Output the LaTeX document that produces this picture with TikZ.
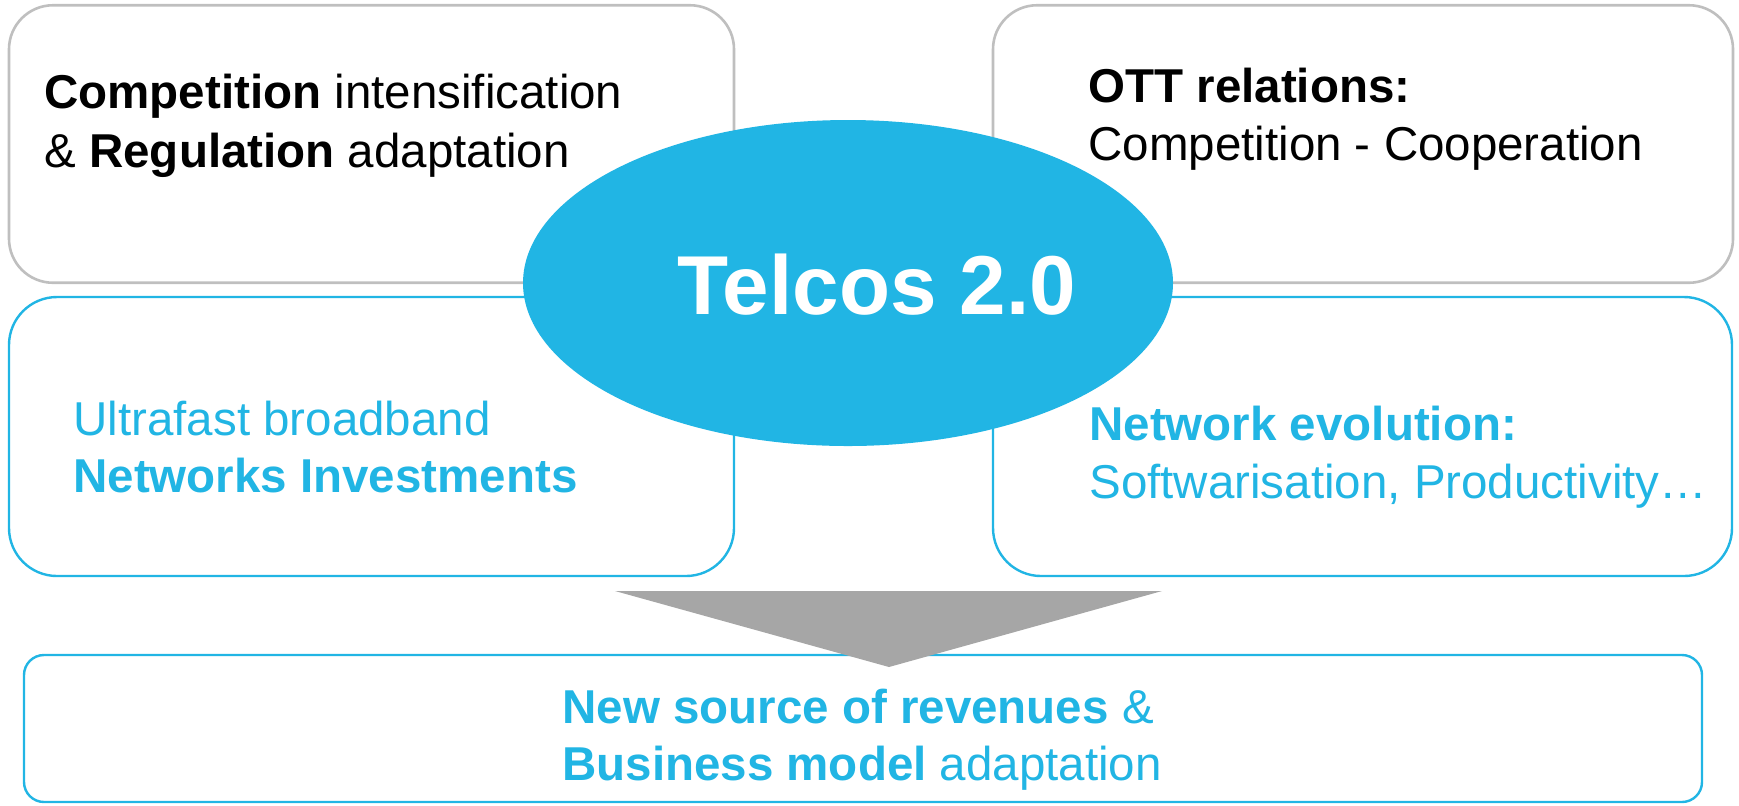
\documentclass[tikz,border=0pt]{standalone}
\usepackage{fontspec}
\setmainfont{Liberation Sans}
\usetikzlibrary{shapes.geometric}
\definecolor{tblue}{RGB}{33,181,228}
\definecolor{tgray}{RGB}{191,191,191}
\definecolor{tarrow}{RGB}{166,166,166}
\begin{document}
\begin{tikzpicture}[x=0.5pt,y=-0.5pt,
  graybox/.style={draw=tgray, line width=1.3pt, rounded corners=22pt, rectangle, inner sep=0pt, fill=white},
  bluebox/.style={draw=tblue, line width=1.2pt, rounded corners=24pt, rectangle, inner sep=0pt, fill=white},
  bottombox/.style={draw=tblue, line width=1.2pt, rounded corners=10pt, rectangle, inner sep=0pt, fill=white},
  txt/.style={anchor=base west, inner sep=0pt, font=\fontsize{23.75pt}{28pt}\selectfont},
  btxt/.style={txt, text=tblue},
  hub/.style={ellipse, fill=tblue, draw=none, inner sep=0pt},
  hubtxt/.style={anchor=base, inner sep=0pt, text=white, font=\fontsize{41.8pt}{48pt}\selectfont\bfseries}
]
\useasboundingbox (0,0) rectangle (1739,805);

% boxes
\node[graybox, minimum width=362.5pt, minimum height=138.75pt] (tl) at (371.5,144) {};
\node[graybox, minimum width=370pt, minimum height=138.75pt] (tr) at (1363,144) {};
\node[bluebox, minimum width=362.5pt, minimum height=139.5pt] (ml) at (371.5,436.5) {};
\node[bluebox, minimum width=369.5pt, minimum height=139.5pt] (mr) at (1362.5,436.5) {};
\node[bottombox, minimum width=839pt, minimum height=73.5pt] (bot) at (863,728.5) {};

% arrow
\coordinate (al) at (615,591);
\coordinate (ar) at (1162,591);
\coordinate (ap) at (889,667);
\fill[tarrow] (al) -- (ar) -- (ap) -- cycle;

% central ellipse
\node[hub, minimum width=325pt, minimum height=163pt] (hub) at (848,283) {};
\node[hubtxt] (hubt) at (877,314) {Telcos 2.0};

% texts
\node[txt] (tl1) at (44,108) {\textbf{Competition} intensification};
\node[txt] (tl2) at (44,167) {\& \textbf{Regulation} adaptation};
\node[txt] (tr1) at (1088,102) {\textbf{OTT relations:}};
\node[txt] (tr2) at (1088,160) {Competition - Cooperation};
\node[btxt] (ml1) at (73,435) {Ultrafast broadband};
\node[btxt] (ml2) at (73,492) {\textbf{Networks Investments}};
\node[btxt] (mr1) at (1089,440) {\textbf{Network evolution:}};
\node[btxt] (mr2) at (1089,498) {Softwarisation, Productivity…};
\node[btxt] (b1) at (562,723) {\textbf{New source of revenues} \&};
\node[btxt] (b2) at (562,780) {\textbf{Business model} adaptation};
\end{tikzpicture}
\end{document}
